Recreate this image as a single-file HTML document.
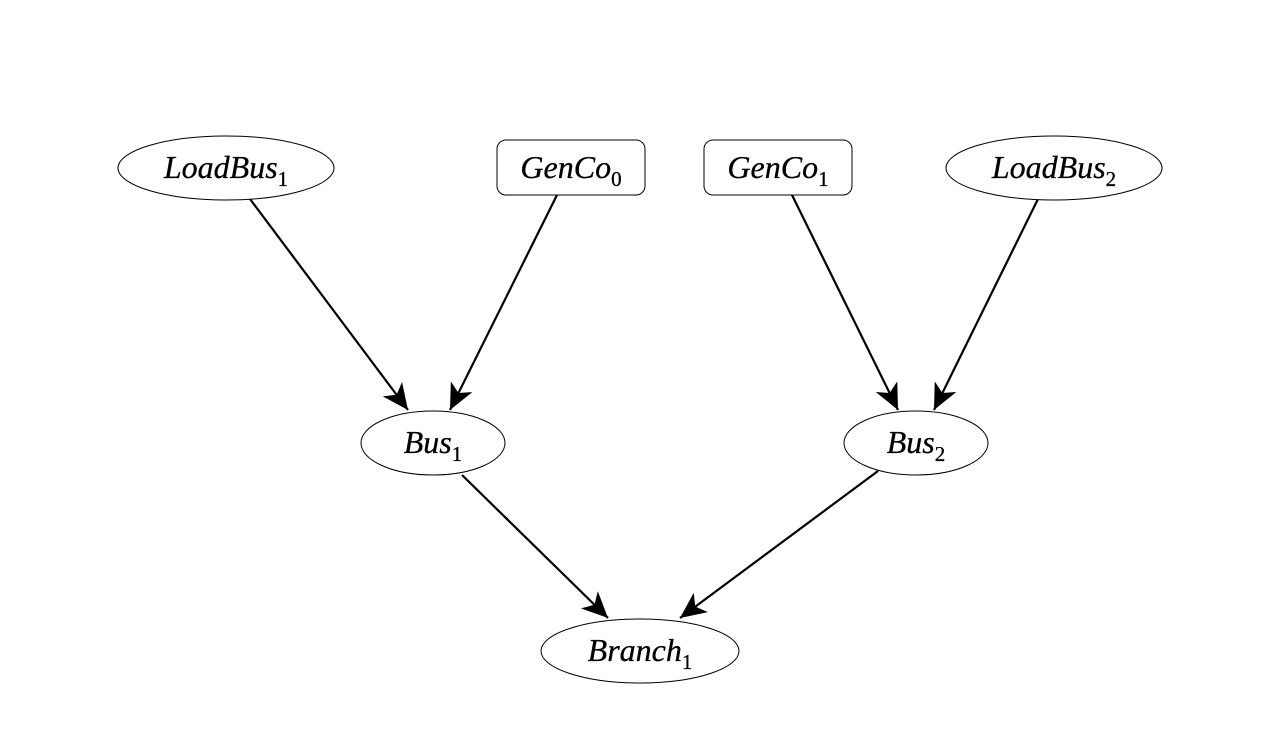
<!DOCTYPE html>
<html><head><style>body{margin:0;background:#fff}svg{display:block}</style></head><body>
<svg width="1280" height="752" viewBox="0 0 1280 752" xmlns="http://www.w3.org/2000/svg">
<defs>
<marker id="a" markerUnits="userSpaceOnUse" markerWidth="30" markerHeight="30" refX="26" refY="12" orient="auto">
<path d="M0,0 L26,12 L0,24 L7,12 Z" fill="#000"/>
</marker>
</defs>
<g stroke="#000" stroke-width="2.2" fill="none">
<line x1="250" y1="199" x2="408" y2="410" marker-end="url(#a)"/>
<line x1="557" y1="195" x2="450" y2="410" marker-end="url(#a)"/>
<line x1="792" y1="195" x2="898" y2="410" marker-end="url(#a)"/>
<line x1="1038" y1="199" x2="934" y2="410" marker-end="url(#a)"/>
<line x1="462" y1="475" x2="608" y2="618" marker-end="url(#a)"/>
<line x1="878" y1="471" x2="680" y2="618" marker-end="url(#a)"/>
</g>
<g stroke="#000" stroke-width="1" fill="#fff">
<ellipse cx="226" cy="168" rx="108" ry="32"/>
<rect x="497" y="140" width="148" height="55" rx="9"/>
<rect x="704" y="140" width="148" height="55" rx="9"/>
<ellipse cx="1054" cy="168" rx="108" ry="32"/>
<ellipse cx="433" cy="443" rx="72" ry="32"/>
<ellipse cx="916" cy="443" rx="72" ry="32"/>
<ellipse cx="640" cy="651" rx="99" ry="32"/>
</g>
<g font-family="Liberation Serif, serif" font-size="32" font-style="italic" text-anchor="middle" stroke="#000" stroke-width="0.3">
<text x="226" y="178">LoadBus<tspan font-style="normal" font-size="21" dy="8">1</tspan></text>
<text x="571" y="178">GenCo<tspan font-style="normal" font-size="21" dy="8">0</tspan></text>
<text x="778" y="178">GenCo<tspan font-style="normal" font-size="21" dy="8">1</tspan></text>
<text x="1054" y="178">LoadBus<tspan font-style="normal" font-size="21" dy="8">2</tspan></text>
<text x="433" y="453">Bus<tspan font-style="normal" font-size="21" dy="8">1</tspan></text>
<text x="916" y="453">Bus<tspan font-style="normal" font-size="21" dy="8">2</tspan></text>
<text x="640" y="661">Branch<tspan font-style="normal" font-size="21" dy="8">1</tspan></text>
</g>
</svg>
</body></html>
